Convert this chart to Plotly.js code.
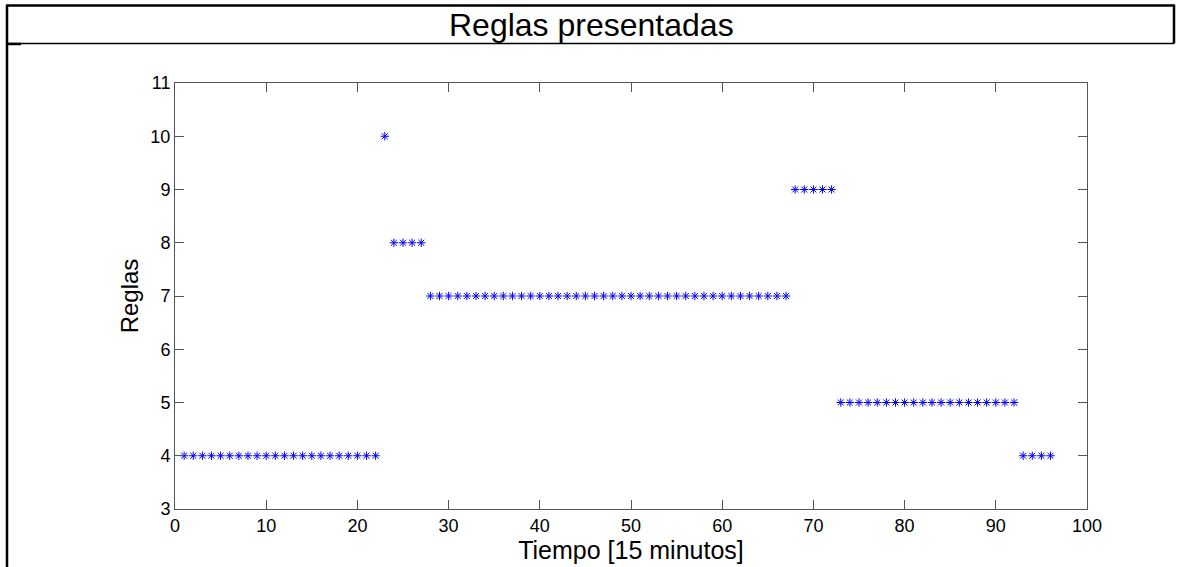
<!DOCTYPE html>
<html>
<head>
<meta charset="utf-8">
<script src="https://cdn.plot.ly/plotly-3.0.1.min.js"></script>
<style>
  html, body { margin: 0; padding: 0; background: #fff; }
  #chart { width: 1179px; height: 567px; }
</style>
</head>
<body>
<div id="chart"></div>
<script>
// Time step index (15-minute intervals over one day)
const tiempo = [
  1, 2, 3, 4, 5, 6, 7, 8, 9, 10, 11, 12, 13, 14, 15, 16, 17, 18, 19, 20,
  21, 22, 23, 24, 25, 26, 27, 28, 29, 30, 31, 32, 33, 34, 35, 36, 37, 38, 39, 40,
  41, 42, 43, 44, 45, 46, 47, 48, 49, 50, 51, 52, 53, 54, 55, 56, 57, 58, 59, 60,
  61, 62, 63, 64, 65, 66, 67, 68, 69, 70, 71, 72, 73, 74, 75, 76, 77, 78, 79, 80,
  81, 82, 83, 84, 85, 86, 87, 88, 89, 90, 91, 92, 93, 94, 95, 96
];

// Rule number presented at each time step
const reglas = [
  4, 4, 4, 4, 4, 4, 4, 4, 4, 4, 4, 4, 4, 4, 4, 4, 4, 4, 4, 4,
  4, 4, 10, 8, 8, 8, 8, 7, 7, 7, 7, 7, 7, 7, 7, 7, 7, 7, 7, 7,
  7, 7, 7, 7, 7, 7, 7, 7, 7, 7, 7, 7, 7, 7, 7, 7, 7, 7, 7, 7,
  7, 7, 7, 7, 7, 7, 7, 9, 9, 9, 9, 9, 5, 5, 5, 5, 5, 5, 5, 5,
  5, 5, 5, 5, 5, 5, 5, 5, 5, 5, 5, 5, 4, 4, 4, 4
];

const xTicks = [0, 10, 20, 30, 40, 50, 60, 70, 80, 90, 100];
const yTicks = [3, 4, 5, 6, 7, 8, 9, 10, 11];

const W = 1179, H = 567;
const px = v => v / W;          // pixel -> paper x
const py = v => 1 - v / H;      // pixel -> paper y

const font = 'Arial, "Liberation Sans", sans-serif';
const axisColor = '#555555';

const trace = {
  x: tiempo,
  y: reglas,
  type: 'scatter',
  mode: 'markers',
  marker: {
    symbol: 'asterisk-open',
    size: 7,
    color: '#0000ff',
    line: { color: '#0000ff', width: 1 }
  },
  hoverinfo: 'x+y'
};

const frameLine = (x0, y0, x1, y1, w) => ({
  type: 'line', xref: 'paper', yref: 'paper',
  x0: px(x0), y0: py(y0), x1: px(x1), y1: py(y1),
  line: { color: '#000', width: w }
});

const layout = {
  width: W, height: H,
  margin: { l: 0, r: 0, t: 0, b: 0, pad: 0 },
  paper_bgcolor: '#fff',
  plot_bgcolor: '#fff',
  showlegend: false,
  font: { family: font, color: '#000', size: 18 },
  xaxis: {
    domain: [px(175), px(1087)],
    range: [0, 100],
    tickvals: xTicks,
    ticktext: xTicks.map(String),
    ticks: 'inside',
    ticklen: 9,
    tickcolor: axisColor,
    tickwidth: 1,
    showline: true,
    linecolor: axisColor,
    linewidth: 1,
    mirror: 'ticks',
    showgrid: false,
    zeroline: false,
    tickfont: { family: font, size: 18, color: '#000' },
    title: {
      text: 'Tiempo [15 minutos]',
      font: { family: font, size: 25, color: '#000' },
      standoff: 2
    }
  },
  yaxis: {
    domain: [py(509), py(83)],
    range: [3, 11],
    tickvals: yTicks,
    ticktext: yTicks.map(String),
    ticks: 'inside',
    ticklen: 9,
    tickcolor: axisColor,
    tickwidth: 1,
    showline: true,
    linecolor: axisColor,
    linewidth: 1,
    mirror: 'ticks',
    showgrid: false,
    zeroline: false,
    tickfont: { family: font, size: 18, color: '#000' },
    title: {
      text: 'Reglas',
      font: { family: font, size: 24, color: '#000' },
      standoff: 4
    }
  },
  shapes: [
    frameLine(7, 5.5, 1174, 5.5, 2.5),     // top of title box
    frameLine(7, 4.5, 7, 567, 2.5),        // left border
    frameLine(1174, 4.5, 1174, 43.5, 2.5), // right side of title box
    frameLine(7, 43.5, 1174, 43.5, 1.5),   // bottom of title box
    frameLine(7, 44, 21, 44, 2.5)          // short stub under title box
  ],
  annotations: [{
    text: 'Reglas presentadas',
    xref: 'paper', yref: 'paper',
    x: px(591), y: py(25),
    xanchor: 'center', yanchor: 'middle',
    showarrow: false,
    font: { family: font, size: 32, color: '#000' }
  }]
};

Plotly.newPlot('chart', [trace], layout, { displayModeBar: false, staticPlot: true });
</script>
</body>
</html>
